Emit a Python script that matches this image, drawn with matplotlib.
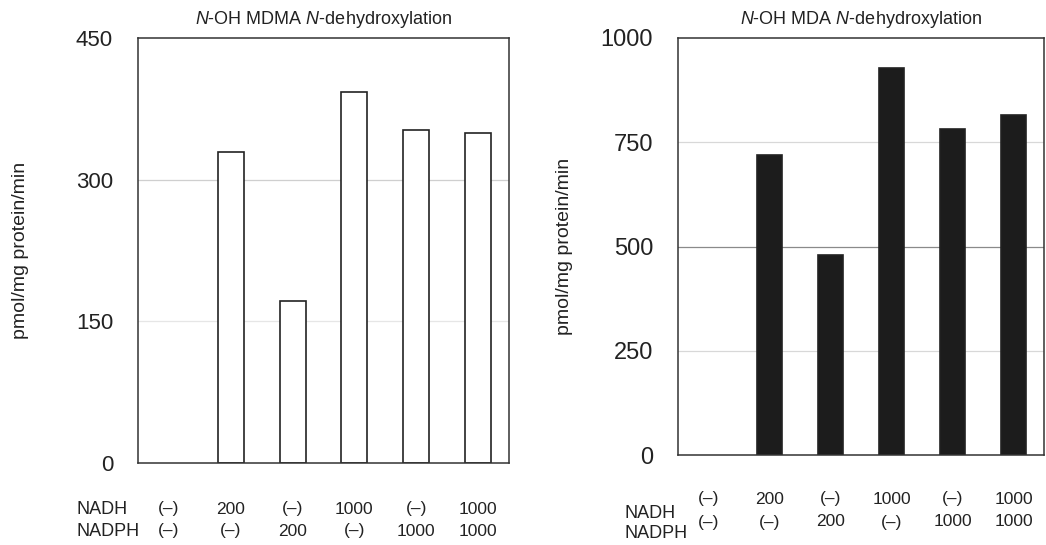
import matplotlib
matplotlib.use("Agg")
import matplotlib.pyplot as plt
from matplotlib.transforms import blended_transform_factory

plt.rcParams['font.family'] = ['Liberation Sans', 'DejaVu Sans']
plt.rcParams['mathtext.fontset'] = 'custom'
plt.rcParams['mathtext.rm'] = 'Liberation Sans'
plt.rcParams['mathtext.it'] = 'Liberation Sans:italic'

categories = ["c1", "c2", "c3", "c4", "c5", "c6"]
nadh = ["(–)", "200", "(–)", "1000", "(–)", "1000"]
nadph = ["(–)", "(–)", "200", "(–)", "1000", "1000"]
mdma_values = [0, 329, 172, 393, 353, 349]
mda_values = [0, 719, 479, 929, 781, 815]
mdma_ticks = [0, 150, 300, 450]
mda_ticks = [0, 250, 500, 750, 1000]

fig = plt.figure(figsize=(10.46, 5.45), dpi=100)
W, H = 1046, 545

def panel(rect, values, ticks, ymax, title, face, grid_cols, row_y, lab_y, lab_x, tick_fs, ylab_pad):
    ax = fig.add_axes(rect)
    x = list(range(len(categories)))
    for t, c in zip(ticks[1:-1], grid_cols):
        ax.axhline(t, color=c, lw=0.9, zorder=0)
    bars = ax.bar(x, values, width=0.42, color=face, edgecolor="#222222", linewidth=1.2, zorder=2)
    for b, v in zip(bars, values):
        if v == 0:
            b.set_visible(False)
    ax.set_xlim(-0.5, len(categories) - 0.5)
    ax.set_ylim(0, ymax)
    ax.set_yticks(ticks)
    ax.set_yticklabels([str(t) for t in ticks], fontsize=tick_fs, color="#222222")
    ax.tick_params(axis="y", length=0, pad=18)
    ax.set_xticks([])
    for s in ax.spines.values():
        s.set_color("#333333")
        s.set_linewidth(1.1)
    ax.set_ylabel("pmol/mg protein/min", fontsize=14, color="#222222", labelpad=ylab_pad)
    ax.set_title(title, fontsize=13, color="#222222", pad=10)
    tr = blended_transform_factory(ax.transData, fig.transFigure)
    for i in x:
        ax.text(i, 1 - row_y[0] / H, nadh[i], transform=tr, ha="center", va="center",
                fontsize=12.5, color="#222222", clip_on=False)
        ax.text(i, 1 - row_y[1] / H, nadph[i], transform=tr, ha="center", va="center",
                fontsize=12.5, color="#222222", clip_on=False)
    fig.text(lab_x / W, 1 - lab_y[0] / H, "NADH", fontsize=13, color="#222222", va="center")
    fig.text(lab_x / W, 1 - lab_y[1] / H, "NADPH", fontsize=13, color="#222222", va="center")
    return ax

panel([138 / W, 82 / H, 371 / W, 425 / H], mdma_values, mdma_ticks, 450,
      r"$\it{N}$-OH MDMA $\it{N}$-dehydroxylation", "white",
      ["#e6e6e6", "#cfcfcf"], (509, 531), (509, 531), 76, 16, 34)
panel([678 / W, 90 / H, 366 / W, 417 / H], mda_values, mda_ticks, 1000,
      r"$\it{N}$-OH MDA $\it{N}$-dehydroxylation", "#1c1c1c",
      ["#d8d8d8", "#8a8a8a", "#d8d8d8"], (499, 522), (513, 534), 624, 17, 20)

fig.savefig("out.png", dpi=100)
